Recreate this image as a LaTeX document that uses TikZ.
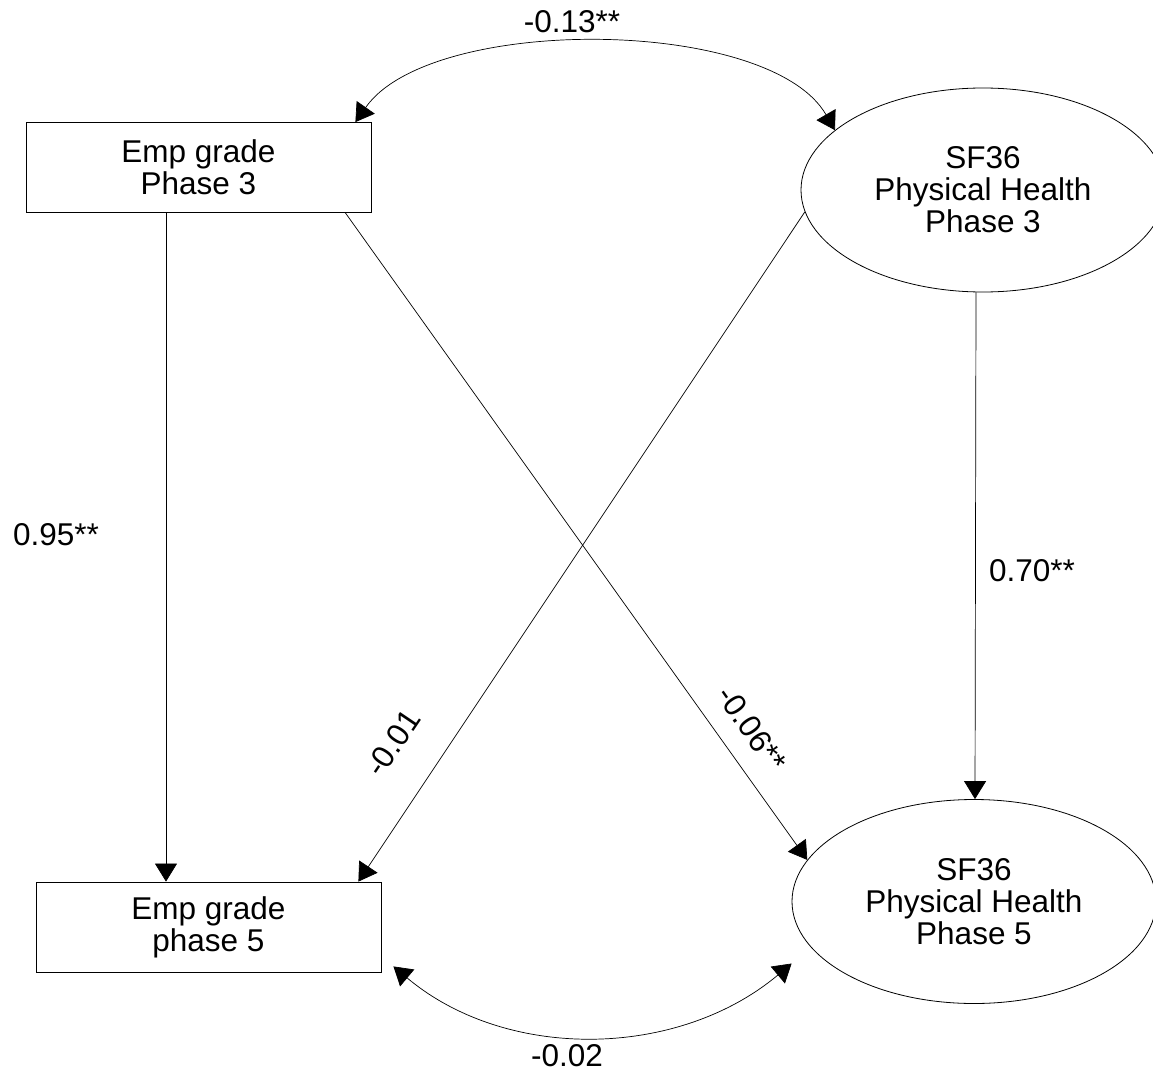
\documentclass[tikz,border=0pt]{standalone}
\usepackage{fontspec}
\setmainfont{Liberation Sans}
\usetikzlibrary{positioning,shapes.geometric,arrows.meta}

\begin{document}
\begin{tikzpicture}[x=1pt,y=-1pt,
    every node/.style={font=\fontsize{31.5}{32}\selectfont, align=center},
    obsbox/.style={draw, line width=0.8pt, rectangle, minimum width=345pt, minimum height=90pt, inner sep=0pt},
    latent/.style={draw, line width=0.8pt, ellipse, minimum width=364pt, minimum height=204pt, inner sep=0pt},
    path/.style={line width=0.7pt, -{Triangle[length=18pt,width=22pt]}},
    covpath/.style={line width=0.7pt, {Triangle[length=18pt,width=22pt]}-{Triangle[length=18pt,width=22pt]}},
    coef/.style={inner sep=0pt}]
  \useasboundingbox (0,0) rectangle (1153,1073);

  % Variables
  \node[obsbox] (b3) at (198.5,167.5) {Emp grade\\Phase 3};
  \node[obsbox] (b5) at (208.5,927) {Emp grade\\phase 5};
  \node[latent] (s3) at (983,190) {SF36\\Physical Health\\Phase 3};
  \node[latent] (s5) at (974,901.5) {SF36\\Physical Health\\Phase 5};

  % Paths
  \draw[path] ([xshift=-32.5pt]b3.south) -- ([xshift=-42.5pt]b5.north);
  \draw[path] ([xshift=-7pt]s3.south) -- ([xshift=1pt]s5.north);
  \draw[path] ([xshift=-26pt]b3.south east) -- (s5.166);
  \draw[path] (s3.187) -- ([xshift=-23pt]b5.north east);

  % Covariances
  \coordinate (l5) at ([xshift=12pt,yshift=6pt]b5.south east);
  \coordinate (r5) at ([yshift=-62pt]s5.west);
  \draw[covpath] ([xshift=-16pt]b3.north east) to[out=55, in=120, looseness=0.7] (s3.158);
  \draw[covpath] (l5) to[out=-40, in=-140, looseness=0.95] (r5);

  % Coefficients
  \node[coef] (c1) at (572,22) {-0.13**};
  \node[coef] (c2) at (567,1056) {-0.02};
  \node[coef] (c3) at (56,535) {0.95**};
  \node[coef] (c4) at (1032,571) {0.70**};
  \node[coef, rotate=56] (c5) at (393,743) {-0.01};
  \node[coef, rotate=-55] (c6) at (752,729) {-0.06**};
\end{tikzpicture}
\end{document}
